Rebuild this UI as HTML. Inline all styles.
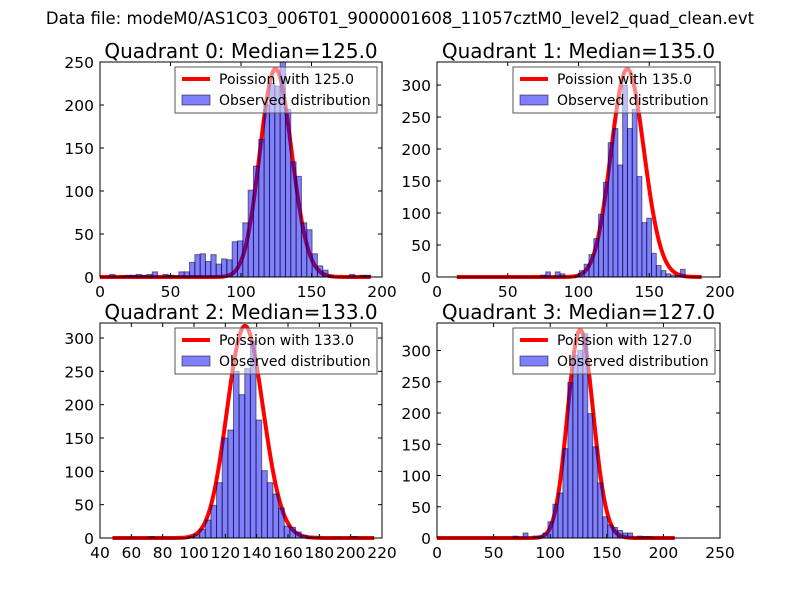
<!DOCTYPE html>
<html><head><meta charset="utf-8"><style>
body{margin:0;background:#fff;}
svg{display:block;font-family:"DejaVu Sans","Liberation Sans",sans-serif;}
</style></head><body>
<svg id="fig" width="800" height="600" viewBox="0 0 800 600">
<rect width="800" height="600" fill="#fff"/>
<text x="400" y="24" text-anchor="middle" font-size="16.5">Data file: modeM0/AS1C03_006T01_9000001608_11057cztM0_level2_quad_clean.evt</text>
</svg>
<script>
// Quadrant 0
const q0Start = 3, q0Width = 3.78;
const q0Counts = [0,3,0,1,2,2,3,2,3,6,0,3,2,1,6,6,17,26,27,18,26,15,21,20,41,42,63,101,129,160,200,225,222,250,195,134,117,63,55,27,13,8,2,0,0,0,3,0,2,2];
const q0XTicks = [0,50,100,150,200];
const q0YTicks = [0,50,100,150,200,250];
// Quadrant 1
const q1Start = 73.4, q1Width = 3.4;
const q1Counts = [3,8,0,8,5,0,0,2,10,20,35,60,98,148,210,232,175,300,232,262,157,85,92,37,18,10,5,3,2,12];
const q1XTicks = [0,50,100,150,200];
const q1YTicks = [0,50,100,150,200,250,300];
// Quadrant 2
const q2Start = 46, q2Width = 3.6;
const q2Counts = [0,0,0,0,0,0,0,2,0,0,0,0,0,0,2,5,13,27,49,83,150,162,250,215,254,295,177,101,83,66,45,18,16,9,4,2,1,1,0,0,1,0,0,2,0,0,0,0];
const q2XTicks = [40,60,80,100,120,140,160,180,200,220];
const q2YTicks = [0,50,100,150,200,250,300];
// Quadrant 3
const q3Start = 67.2, q3Width = 4.4;
const q3Counts = [3,0,8,0,3,3,8,26,54,72,143,249,292,300,327,199,146,88,34,21,17,12,8,8,0,3,2,2];
const q3XTicks = [0,50,100,150,200,250];
const q3YTicks = [0,50,100,150,200,250,300];
// Poisson model parameters
const medians = [125.0,135.0,133.0,127.0];
const poissonPeaks = [242,325,318,333];
const curveFrom = [0,14,48,0];
const curveTo = [192,187,215,210];
const xDomains = [[0,200],[0,200],[40,220],[0,250]];
const yMaxes = [250,336,322.5,344];

const panels = [
 {L:100,R:382,T:62,B:277,start:q0Start,w:q0Width,counts:q0Counts,xt:q0XTicks,yt:q0YTicks,lx:175},
 {L:437,R:720,T:62,B:277,start:q1Start,w:q1Width,counts:q1Counts,xt:q1XTicks,yt:q1YTicks,lx:513},
 {L:100,R:382,T:323,B:538,start:q2Start,w:q2Width,counts:q2Counts,xt:q2XTicks,yt:q2YTicks,lx:175},
 {L:437,R:720,T:323,B:538,start:q3Start,w:q3Width,counts:q3Counts,xt:q3XTicks,yt:q3YTicks,lx:513}
];
const NS="http://www.w3.org/2000/svg";
const svg=document.getElementById('fig');
function mk(tag,attrs,parent){const e=document.createElementNS(NS,tag);for(const k in attrs)e.setAttribute(k,attrs[k]);(parent||svg).appendChild(e);return e;}
function lnFact(k){if(k<1)return 0;return k*Math.log(k)-k+0.5*Math.log(2*Math.PI*k)+1/(12*k);}
function logPmf(k,l){return k*Math.log(l)-l-lnFact(k);}

panels.forEach((p,i)=>{
  const g=mk('g',{});
  
  
  const [x0,x1]=xDomains[i];const ym=yMaxes[i];
  const sx=v=>p.L+(v-x0)/(x1-x0)*(p.R-p.L);
  const sy=v=>p.B-v/ym*(p.B-p.T);
  const lam=medians[i];let pts=[];
  for(let x=curveFrom[i];x<=curveTo[i];x+=1){
    const y=poissonPeaks[i]*Math.exp(logPmf(x,lam)-logPmf(lam,lam));
    pts.push(sx(x).toFixed(2)+','+sy(y).toFixed(2));
  }
  const line=mk('polyline',{points:pts.join(' '),fill:'none',stroke:'#ff0000','stroke-width':4,'stroke-linejoin':'round'},g);
  
  
  p.counts.forEach((c,j)=>{
    if(c<=0)return;
    const a=p.start+j*p.w,b=a+p.w;
    const r=mk('rect',{x:sx(a),y:sy(c),width:sx(b)-sx(a),height:sy(0)-sy(c),fill:'#0000ff','fill-opacity':0.5,stroke:'#000','stroke-opacity':0.5,'stroke-width':1},g);
    
    
  });
  const fr=mk('rect',{x:p.L,y:p.T,width:p.R-p.L,height:p.B-p.T,fill:'none',stroke:'#000','stroke-width':1},g);
  
  
  p.xt.forEach(v=>{
    const X=sx(v);
    mk('line',{x1:X,x2:X,y1:p.B,y2:p.B-4,stroke:'#000'},g);
    mk('line',{x1:X,x2:X,y1:p.T,y2:p.T+4,stroke:'#000'},g);
    const t=mk('text',{x:X,y:p.B+20,'text-anchor':'middle','font-size':15.5},g);
    t.textContent=v;
    
    
  });
  p.yt.forEach(v=>{
    const Y=sy(v);
    mk('line',{x1:p.L,x2:p.L+4,y1:Y,y2:Y,stroke:'#000'},g);
    mk('line',{x1:p.R,x2:p.R-4,y1:Y,y2:Y,stroke:'#000'},g);
    const t=mk('text',{x:p.L-6,y:Y+6,'text-anchor':'end','font-size':15.5},g);
    t.textContent=v;
    
    
  });
  const tt=mk('text',{x:(p.L+p.R)/2,y:p.T-4,'text-anchor':'middle','font-size':20},g);
  tt.textContent='Quadrant '+i+': Median='+medians[i].toFixed(1);
  
  
  const lg=mk('g',{},g);
  
  
  const ly=p.T+5;
  mk('rect',{x:p.lx,y:ly,width:p.R-5-p.lx,height:46,fill:'#fff','fill-opacity':0.5,stroke:'#555','stroke-width':1},lg);
  mk('line',{x1:p.lx+7,x2:p.lx+35,y1:ly+12,y2:ly+12,stroke:'#ff0000','stroke-width':4},lg);
  const t1=mk('text',{x:p.lx+44,y:ly+17,'font-size':14},lg);
  t1.textContent='Poission with '+medians[i].toFixed(1);
  
  
  mk('rect',{x:p.lx+7,y:ly+28,width:28,height:10,fill:'#0000ff','fill-opacity':0.5,stroke:'#000','stroke-opacity':0.5},lg);
  const t2=mk('text',{x:p.lx+44,y:ly+38,'font-size':14},lg);
  t2.textContent='Observed distribution';
  
  
});
</script>
</body></html>
